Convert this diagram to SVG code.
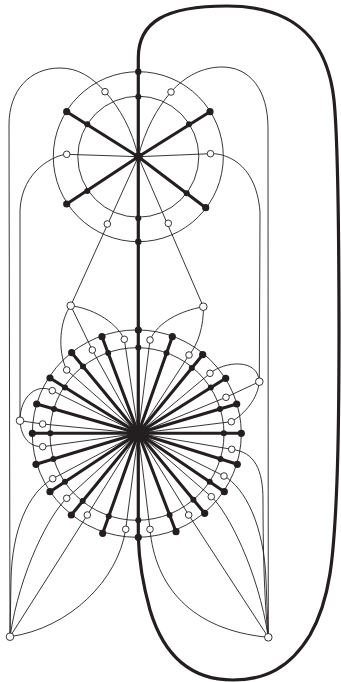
<svg xmlns="http://www.w3.org/2000/svg" width="341" height="682" viewBox="0 0 341 682">
<style>
.t{fill:none;stroke:#231f20;stroke-width:0.9}
.k{fill:none;stroke:#231f20;stroke-width:3.1;stroke-linecap:round}
.L{fill:none;stroke:#231f20;stroke-width:3.2}
.b{fill:#231f20}
.o{fill:#fff;stroke:#231f20;stroke-width:0.9}
</style>
<rect width="341" height="682" fill="#fff"/>
<g id="connectors">
<path class="L" d="M138.3,71.7 L138.3,58 C138.3,22 165,6 227,6 C300,6 328,45 334,100 C340,160 340,400 337,480 C334,560 330,600 310,635 C290,668 265,680 233,680 C195,680 165,660 150,610 C143,585 139,560 138.3,537.3"/>
<circle class="t" cx="138.3" cy="156.7" r="85"/>
<circle class="t" cx="138.3" cy="156.7" r="60.5"/>
<path class="t" d="M138.3,156.7 C132,130 120,108 105,91.7 C92,77 78,68 60,68 C30,68 9,90 9,125 L10,636.7"/>
<path class="t" d="M138.3,156.7 C145,130 157,108 171,92 C185,76 203,67 222,67 C250,67 268,90 268,128 L268.3,637.3"/>
<path class="t" d="M138.3,156.7 L66.7,154.3 C55,155 22,170 20,210 L20,420.7"/>
<path class="t" d="M138.3,156.7 L210.5,153.7 C222,153 256,160 260,212 L259.3,381.7"/>
<path class="t" d="M138.3,156.7 L70.7,305.7"/>
<path class="t" d="M138.3,156.7 L203.3,306.7"/>
<path class="k" d="M138.3,156.7 L66.7,111.7 M138.3,156.7 L210,111.7 M138.3,156.7 L205.7,207.7 M138.3,156.7 L66.7,204"/>
<path class="L" d="M138.3,71.7 L138.3,537.3"/>
<ellipse class="t" cx="136.8" cy="433.6" rx="104.5" ry="103.7"/>
<ellipse class="t" cx="137" cy="434" rx="87" ry="86.3"/>
<path class="t" d="M138.3,433.3 L124.3,339.3 M138.3,433.3 L150,340 M138.3,433.3 L92.3,350 M138.3,433.3 L189,355 M138.3,433.3 L66.7,370 M138.3,433.3 L210,373.3 M138.3,433.3 L52.3,390.7 M138.3,433.3 L226,397.3 M138.3,433.3 L42.7,424 M138.3,433.3 L231.3,421.7 M138.3,433.3 L42.7,446.7 M138.3,433.3 L231.7,449.3 M138.3,433.3 L52.7,478.7 M138.3,433.3 L224,476 M138.3,433.3 L66.7,498.3 M138.3,433.3 L211.3,496.7 M138.3,433.3 L87.3,515 M138.3,433.3 L188.7,515 M138.3,433.3 L125.7,529.3 M138.3,433.3 L150,529.3"/>
<path class="k" d="M138.3,433.3 L172.3,336.7 M138.3,433.3 L202.7,354.7 M138.3,433.3 L225.7,378.3 M138.3,433.3 L236.7,404 M138.3,433.3 L241.3,433.3 M138.3,433.3 L237.3,464.3 M138.3,433.3 L224.3,491.7 M138.3,433.3 L204.7,513.3 M138.3,433.3 L176,531.7 M138.3,433.3 L102.7,533.3 M138.3,433.3 L71.3,515 M138.3,433.3 L50,491.7 M138.3,433.3 L36,464.3 M138.3,433.3 L32.3,433.3 M138.3,433.3 L36.7,404 M138.3,433.3 L50,378 M138.3,433.3 L71.7,352.7 M138.3,433.3 L102,336.7"/>
<path class="t" d="M70.7,305.7 C90,308 115,320 124.3,339.3"/>
<path class="t" d="M92.3,350 L70.7,305.7"/>
<path class="t" d="M70.7,305.7 C60,320 57,350 66.7,370"/>
<path class="t" d="M203.3,306.7 C180,311 158,322 150,340"/>
<path class="t" d="M189,355 C198,345 204,325 203.3,306.7"/>
<path class="t" d="M210,373.3 C225,361 258,358 259.3,381.7"/>
<path class="t" d="M226,397.3 L259.3,381.7"/>
<path class="t" d="M259.3,381.7 C258,398 245,414 231.3,421.7"/>
<path class="t" d="M20,420.7 C20,395 38,383 52.3,390.7"/>
<path class="t" d="M42.7,424 L20,420.7"/>
<path class="t" d="M20,420.7 C21,438 30,447 42.7,446.7"/>
<path class="t" d="M52.7,478.7 C28,493 12,530 11,580 L10,636.7"/>
<path class="t" d="M66.7,498.3 C50,514 20,570 10,636.7"/>
<path class="t" d="M87.3,515 L10,636.7"/>
<path class="t" d="M125.7,529.3 C118,580 70,628 10,636.7"/>
<path class="t" d="M150,529.3 C155,585 190,630 268.3,637.3"/>
<path class="t" d="M188.7,515 L268.3,637.3"/>
<path class="t" d="M211.3,496.7 C228,512 258,570 268.3,637.3"/>
<path class="t" d="M224,476 C245,488 264,525 266,580 L268.3,637.3"/>
<path class="t" d="M231.7,449.3 C255,452 263,470 263,500 C263,560 265,610 268.3,637.3"/>
</g>
<g id="tw-center"><circle class="b" cx="138.3" cy="156.7" r="4.5"/></g>
<g id="tw-out-n"><circle class="b" cx="138.3" cy="71.7" r="3.2"/></g>
<g id="tw-out-ne"><circle class="b" cx="210" cy="111.7" r="3.6"/></g>
<g id="tw-out-se"><circle class="b" cx="205.7" cy="207.7" r="3.6"/></g>
<g id="tw-out-s"><circle class="b" cx="138.3" cy="241.7" r="3.2"/></g>
<g id="tw-out-sw"><circle class="b" cx="66.7" cy="204" r="3.6"/></g>
<g id="tw-out-nw"><circle class="b" cx="66.7" cy="111.7" r="3.6"/></g>
<g id="tw-in-n"><circle class="b" cx="138.3" cy="96.7" r="3"/></g>
<g id="tw-in-ne"><circle class="b" cx="189" cy="124.3" r="3"/></g>
<g id="tw-in-se"><circle class="b" cx="186.7" cy="193.3" r="3"/></g>
<g id="tw-in-s"><circle class="b" cx="138.3" cy="218.3" r="3"/></g>
<g id="tw-in-sw"><circle class="b" cx="87.3" cy="191" r="3"/></g>
<g id="tw-in-nw"><circle class="b" cx="87.3" cy="124.3" r="3"/></g>
<g id="tw-w1"><circle class="o" cx="105" cy="91.7" r="3.3"/></g>
<g id="tw-w2"><circle class="o" cx="171" cy="92" r="3.3"/></g>
<g id="tw-w3"><circle class="o" cx="66.7" cy="154.3" r="3.3"/></g>
<g id="tw-w4"><circle class="o" cx="210.5" cy="153.7" r="3.3"/></g>
<g id="tw-w5"><circle class="o" cx="107.3" cy="224" r="3.3"/></g>
<g id="tw-w6"><circle class="o" cx="168.3" cy="223.3" r="3.3"/></g>
<g id="ext-tl"><circle class="o" cx="70.7" cy="305.7" r="3.8"/></g>
<g id="ext-tr"><circle class="o" cx="203.3" cy="306.7" r="3.8"/></g>
<g id="ext-l"><circle class="o" cx="20" cy="420.7" r="3.8"/></g>
<g id="ext-r"><circle class="o" cx="259.3" cy="381.7" r="3.8"/></g>
<g id="ext-bl"><circle class="o" cx="10" cy="636.7" r="3.8"/></g>
<g id="ext-br"><circle class="o" cx="268.3" cy="637.3" r="3.8"/></g>
<g id="bw-center"><circle class="b" cx="138.3" cy="433.3" r="5.5"/></g>
<g id="bw-o90"><circle class="b" cx="138.3" cy="330" r="3.6"/></g>
<g id="bw-o72"><circle class="b" cx="172.3" cy="336.7" r="3.6"/></g>
<g id="bw-o54"><circle class="b" cx="202.7" cy="354.7" r="3.6"/></g>
<g id="bw-o36"><circle class="b" cx="225.7" cy="378.3" r="3.6"/></g>
<g id="bw-o18"><circle class="b" cx="236.7" cy="404" r="3.6"/></g>
<g id="bw-o0"><circle class="b" cx="241.3" cy="433.3" r="3.6"/></g>
<g id="bw-o342"><circle class="b" cx="237.3" cy="464.3" r="3.6"/></g>
<g id="bw-o324"><circle class="b" cx="224.3" cy="491.7" r="3.6"/></g>
<g id="bw-o306"><circle class="b" cx="204.7" cy="513.3" r="3.6"/></g>
<g id="bw-o288"><circle class="b" cx="176" cy="531.7" r="3.6"/></g>
<g id="bw-o270"><circle class="b" cx="138.3" cy="537.3" r="3.6"/></g>
<g id="bw-o252"><circle class="b" cx="102.7" cy="533.3" r="3.6"/></g>
<g id="bw-o234"><circle class="b" cx="71.3" cy="515" r="3.6"/></g>
<g id="bw-o216"><circle class="b" cx="50" cy="491.7" r="3.6"/></g>
<g id="bw-o198"><circle class="b" cx="36" cy="464.3" r="3.6"/></g>
<g id="bw-o180"><circle class="b" cx="32.3" cy="433.3" r="3.6"/></g>
<g id="bw-o162"><circle class="b" cx="36.7" cy="404" r="3.6"/></g>
<g id="bw-o144"><circle class="b" cx="50" cy="378" r="3.6"/></g>
<g id="bw-o126"><circle class="b" cx="71.7" cy="352.7" r="3.6"/></g>
<g id="bw-o108"><circle class="b" cx="102" cy="336.7" r="3.6"/></g>
<g id="bw-i90"><circle class="b" cx="138.3" cy="347.6" r="3"/></g>
<g id="bw-i72"><circle class="b" cx="166.5" cy="353.1" r="3"/></g>
<g id="bw-i54"><circle class="b" cx="191.8" cy="368.1" r="3"/></g>
<g id="bw-i36"><circle class="b" cx="210.8" cy="387.6" r="3"/></g>
<g id="bw-i18"><circle class="b" cx="220" cy="409" r="3"/></g>
<g id="bw-i0"><circle class="b" cx="223.8" cy="433.3" r="3"/></g>
<g id="bw-i342"><circle class="b" cx="220.5" cy="459" r="3"/></g>
<g id="bw-i324"><circle class="b" cx="209.7" cy="481.8" r="3"/></g>
<g id="bw-i306"><circle class="b" cx="193.4" cy="499.7" r="3"/></g>
<g id="bw-i288"><circle class="b" cx="169.6" cy="515" r="3"/></g>
<g id="bw-i270"><circle class="b" cx="138.3" cy="520.3" r="3"/></g>
<g id="bw-i252"><circle class="b" cx="108.8" cy="516.3" r="3"/></g>
<g id="bw-i234"><circle class="b" cx="82.7" cy="501.1" r="3"/></g>
<g id="bw-i216"><circle class="b" cx="65" cy="481.8" r="3"/></g>
<g id="bw-i198"><circle class="b" cx="53.4" cy="459" r="3"/></g>
<g id="bw-i180"><circle class="b" cx="50.3" cy="433.3" r="3"/></g>
<g id="bw-i162"><circle class="b" cx="54" cy="409" r="3"/></g>
<g id="bw-i144"><circle class="b" cx="65" cy="387.4" r="3"/></g>
<g id="bw-i126"><circle class="b" cx="83" cy="366.4" r="3"/></g>
<g id="bw-i108"><circle class="b" cx="108.2" cy="353.1" r="3"/></g>
<g id="bw-w99"><circle class="o" cx="124.3" cy="339.3" r="3.3"/></g>
<g id="bw-w81"><circle class="o" cx="150" cy="340" r="3.3"/></g>
<g id="bw-w117"><circle class="o" cx="92.3" cy="350" r="3.3"/></g>
<g id="bw-w63"><circle class="o" cx="189" cy="355" r="3.3"/></g>
<g id="bw-w135"><circle class="o" cx="66.7" cy="370" r="3.3"/></g>
<g id="bw-w45"><circle class="o" cx="210" cy="373.3" r="3.3"/></g>
<g id="bw-w153"><circle class="o" cx="52.3" cy="390.7" r="3.3"/></g>
<g id="bw-w27"><circle class="o" cx="226" cy="397.3" r="3.3"/></g>
<g id="bw-w171"><circle class="o" cx="42.7" cy="424" r="3.3"/></g>
<g id="bw-w9"><circle class="o" cx="231.3" cy="421.7" r="3.3"/></g>
<g id="bw-w189"><circle class="o" cx="42.7" cy="446.7" r="3.3"/></g>
<g id="bw-w351"><circle class="o" cx="231.7" cy="449.3" r="3.3"/></g>
<g id="bw-w207"><circle class="o" cx="52.7" cy="478.7" r="3.3"/></g>
<g id="bw-w333"><circle class="o" cx="224" cy="476" r="3.3"/></g>
<g id="bw-w225"><circle class="o" cx="66.7" cy="498.3" r="3.3"/></g>
<g id="bw-w315"><circle class="o" cx="211.3" cy="496.7" r="3.3"/></g>
<g id="bw-w243"><circle class="o" cx="87.3" cy="515" r="3.3"/></g>
<g id="bw-w297"><circle class="o" cx="188.7" cy="515" r="3.3"/></g>
<g id="bw-w261"><circle class="o" cx="125.7" cy="529.3" r="3.3"/></g>
<g id="bw-w279"><circle class="o" cx="150" cy="529.3" r="3.3"/></g>
</svg>
